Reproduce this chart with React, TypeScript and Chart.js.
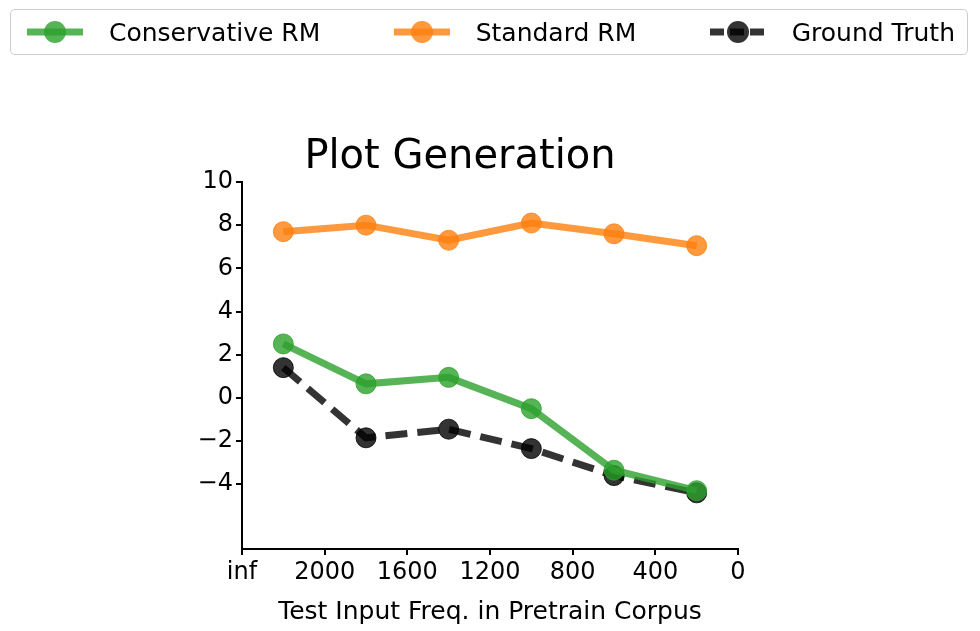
import { useEffect, useRef } from "react";
import Chart from "chart.js/auto";

const xValues = [2200, 1800, 1400, 1000, 600, 200];
const conservative = [2.5, 0.65, 0.95, -0.5, -3.35, -4.3];
const standard = [7.7, 8.0, 7.3, 8.1, 7.6, 7.05];
const groundTruth = [1.4, -1.85, -1.45, -2.35, -3.6, -4.4];

const series = [
  { label: "Conservative RM", data: conservative, color: "rgba(44,160,44,0.8)", dash: [] },
  { label: "Standard RM", data: standard, color: "rgba(255,127,14,0.8)", dash: [] },
  { label: "Ground Truth", data: groundTruth, color: "rgba(0,0,0,0.8)", dash: [22, 10] },
];

const font = "'DejaVu Sans', sans-serif";

export default function App() {
  const ref = useRef<HTMLCanvasElement>(null);

  useEffect(() => {
    const chart = new Chart(ref.current!, {
      type: "line",
      data: {
        datasets: series.map((s) => ({
          label: s.label,
          data: xValues.map((x, i) => ({ x, y: s.data[i] })),
          borderColor: s.color,
          backgroundColor: s.color,
          borderWidth: 7,
          borderDash: s.dash,
          pointRadius: 10,
          pointBorderWidth: 1,
          pointBorderColor: s.color,
          tension: 0,
        })),
      },
      options: {
        animation: false,
        responsive: false,
        layout: { padding: { left: 182, right: 242, top: 0, bottom: 0 } },
        plugins: {
          legend: { display: false },
          tooltip: { enabled: false },
          title: {
            display: true,
            text: "Plot Generation",
            color: "black",
            font: { family: font, size: 40, weight: "normal" },
            padding: { top: 134, bottom: 0 },
          },
        },
        scales: {
          x: {
            type: "linear",
            reverse: true,
            min: 0,
            max: 2400,
            ticks: {
              stepSize: 400,
              color: "black",
              font: { family: font, size: 24 },
              maxRotation: 0,
              callback: (v: any) => (v === 2400 ? "inf" : String(v)),
            },
            grid: { drawOnChartArea: false, drawTicks: true, tickLength: 6, color: "black", lineWidth: 2 },
            border: { color: "black", width: 2 },
            title: {
              display: true,
              text: "Test Input Freq. in Pretrain Corpus",
              color: "black",
              font: { family: font, size: 25 },
              padding: { top: 2 },
            },
            afterFit: (s: any) => { s.height = 82; },
          },
          y: {
            min: -7,
            max: 10,
            ticks: {
              stepSize: 2,
              color: "black",
              font: { family: font, size: 24 },
              callback: (v: any) => String(v).replace("-", "\u2212"),
            },
            afterBuildTicks: (s: any) => {
              s.ticks = s.ticks.filter((t: any) => t.value % 2 === 0);
            },
            grid: { drawOnChartArea: false, drawTicks: true, tickLength: 6, color: "black", lineWidth: 2 },
            border: { color: "black", width: 2 },
            afterFit: (s: any) => { s.width = 60; },
          },
        },
      },
    });
    return () => chart.destroy();
  }, []);

  return (
    <div style={{ position: "absolute", left: 0, top: 0, width: 980, height: 631, background: "white" }}>
      <canvas ref={ref} width={980} height={631} />
      <div
        style={{
          position: "absolute", left: 10, top: 9, width: 958, height: 46,
          border: "1px solid #ccc", borderRadius: 5, boxSizing: "border-box",
          display: "flex", alignItems: "center", justifyContent: "space-between",
          padding: "0 12px 0 16px", fontFamily: font, fontSize: 25, color: "black",
        }}
      >
        {series.map((s) => (
          <div key={s.label} style={{ display: "flex", alignItems: "center" }}>
            <svg width={56} height={30} style={{ marginRight: 26 }}>
              <line x1={0} y1={15} x2={56} y2={15} stroke={s.color} strokeWidth={7}
                strokeDasharray={s.dash.length ? "14 6" : undefined} />
              <circle cx={28} cy={15} r={11} fill={s.color} />
            </svg>
            <span>{s.label}</span>
          </div>
        ))}
      </div>
    </div>
  );
}
